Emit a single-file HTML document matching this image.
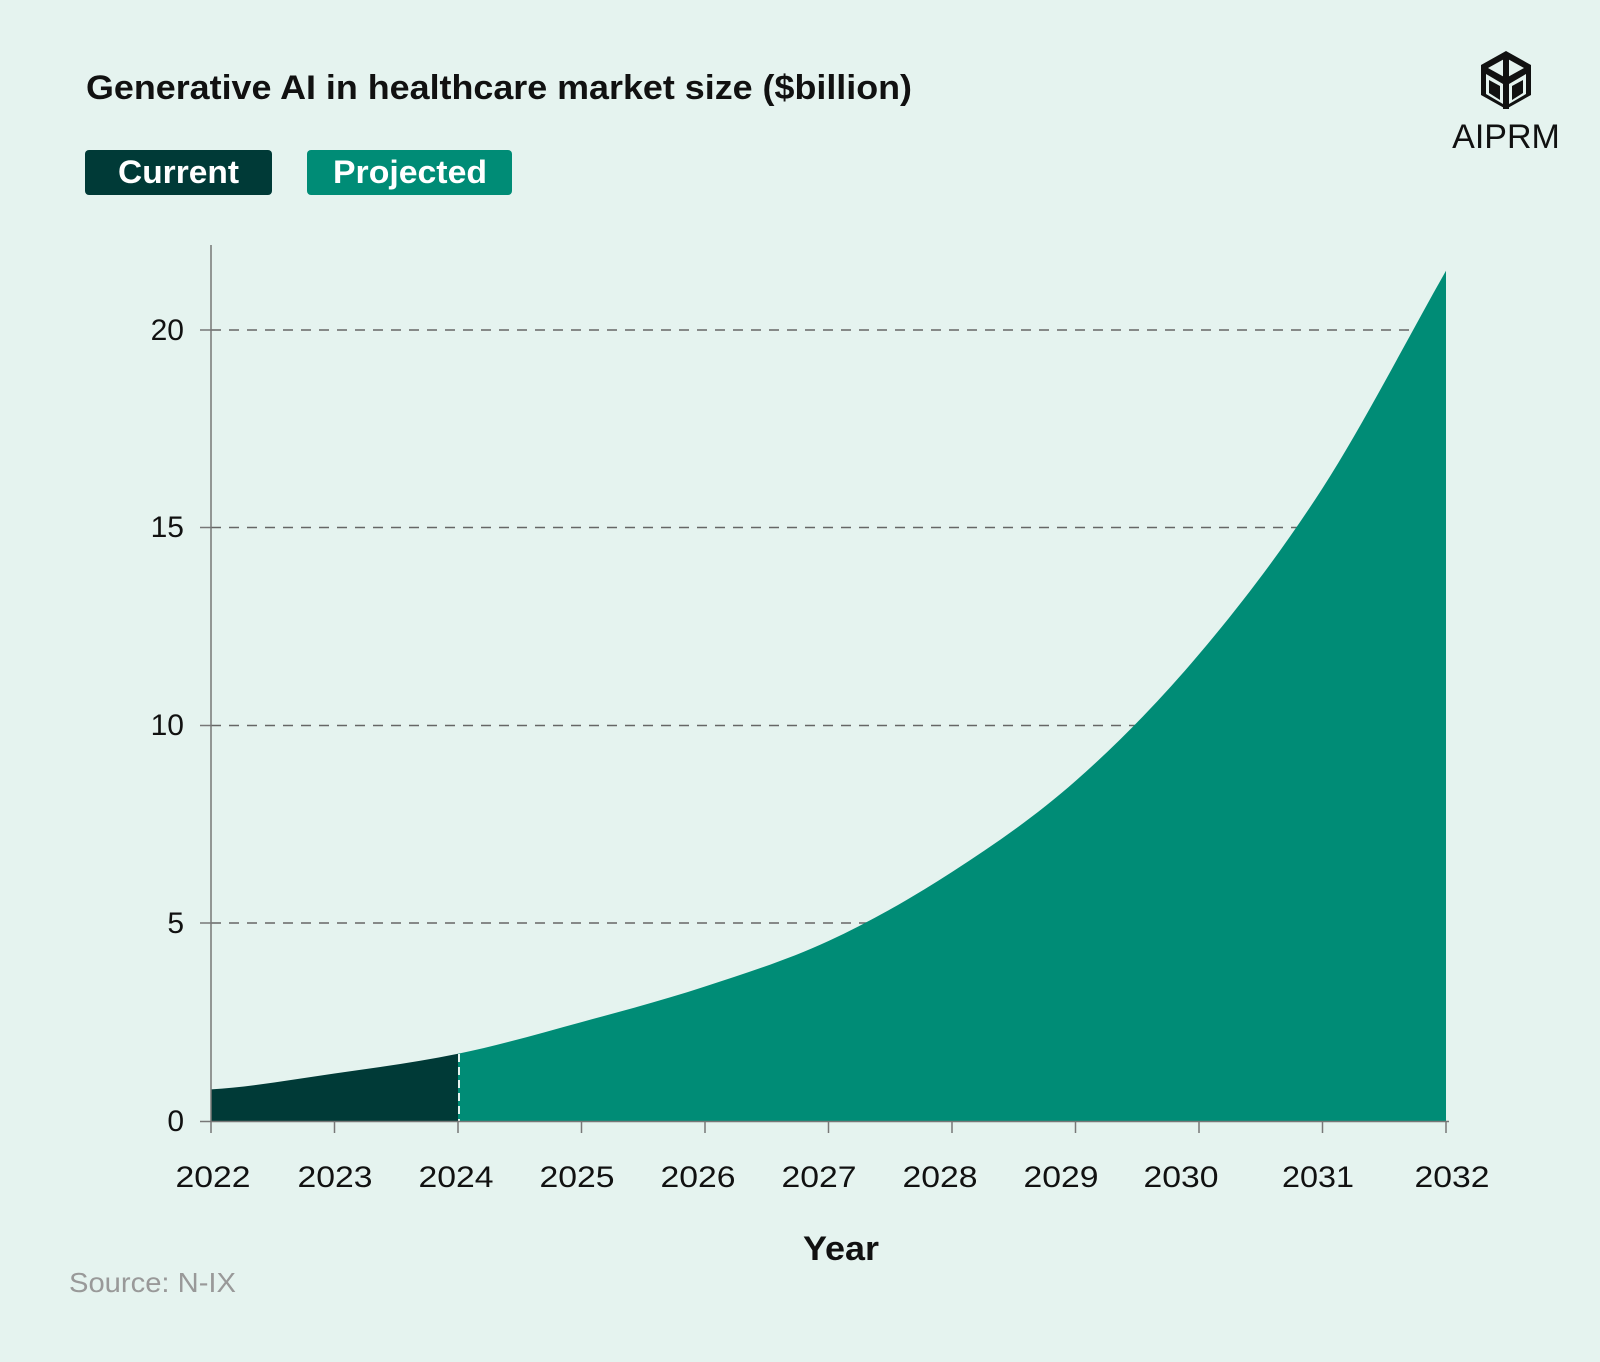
<!DOCTYPE html>
<html><head><meta charset="utf-8"><style>
html,body{margin:0;padding:0;background:#e5f3ef;}
svg{display:block;font-family:"Liberation Sans",Arial,sans-serif;}
</style></head><body>
<svg width="1600" height="1362" viewBox="0 0 1600 1362" xmlns="http://www.w3.org/2000/svg">
<rect width="1600" height="1362" fill="#e5f3ef"/>
<text x="86" y="99" font-size="34" font-weight="bold" fill="#111" textLength="826" lengthAdjust="spacingAndGlyphs">Generative AI in healthcare market size ($billion)</text>
<rect x="85" y="150" width="187" height="45" rx="4" fill="#003a37"/>
<text x="118" y="183" font-size="32" font-weight="bold" fill="#fff" textLength="121" lengthAdjust="spacingAndGlyphs">Current</text>
<rect x="307" y="150" width="205" height="45" rx="4" fill="#008c76"/>
<text x="333" y="183" font-size="32" font-weight="bold" fill="#fff" textLength="154" lengthAdjust="spacingAndGlyphs">Projected</text>
<!-- logo -->
<g fill="#111">
<polygon points="1506,51 1531,65 1531,95 1506,109 1481,95 1481,65" fill="#111"/>
<polygon points="1506,58 1524,68 1506,78 1488,68" fill="#e5f3ef"/>
<rect x="1503" y="55" width="6" height="54" fill="#111"/>
<polygon points="1486,74 1503,84 1503,104 1486,94" fill="#e5f3ef"/>
<polygon points="1526,74 1509,84 1509,104 1526,94" fill="#e5f3ef"/>
<polygon points="1489,80 1500,86 1500,100 1489,93" fill="#111"/>
<polygon points="1523,80 1512,86 1512,100 1523,93" fill="#111"/>
</g>
<text x="1506" y="148" font-size="34" fill="#111" text-anchor="middle">AIPRM</text>
<!-- grid -->
<g stroke="#666" stroke-width="1.5" stroke-dasharray="10,8">
<line x1="211" y1="330" x2="1449" y2="330"/>
<line x1="211" y1="527.5" x2="1449" y2="527.5"/>
<line x1="211" y1="725.5" x2="1449" y2="725.5"/>
<line x1="211" y1="923" x2="1449" y2="923"/>
</g>
<!-- area -->
<path d="M211,1121 L211,1089.4 C252.2,1086.75 293.3,1079.43 334.5,1073.5 C375.7,1067.57 416.8,1062.37 458,1053.8 L458,1121 Z" fill="#003a37"/>
<path d="M458,1121 L458,1053.8 C499.2,1045.23 540.3,1033.32 581.5,1022.1 C622.7,1010.88 663.8,1000.02 705,986.5 C746.2,972.98 787.3,960.08 828.5,941 C869.7,921.92 910.8,898.67 952,872 C993.2,845.33 1034.3,817.28 1075.5,781 C1116.7,744.72 1157.8,703.1 1199,654.3 C1240.2,605.5 1281.3,552.13 1322.5,488.2 C1363.7,424.27 1404.8,343.2 1446,270.7 L1446,1121 Z" fill="#008c76"/>
<line x1="459" y1="1054" x2="459" y2="1121" stroke="#e5f3ef" stroke-width="2" stroke-dasharray="8,5"/>
<!-- axes -->
<line x1="211" y1="245" x2="211" y2="1121" stroke="#777" stroke-width="1.5"/>
<line x1="200" y1="1121.5" x2="1449" y2="1121.5" stroke="#777" stroke-width="1.5"/>
<g stroke="#777" stroke-width="1.5">
<line x1="200" y1="330" x2="211" y2="330"/><line x1="200" y1="527.5" x2="211" y2="527.5"/><line x1="200" y1="725.5" x2="211" y2="725.5"/><line x1="200" y1="923" x2="211" y2="923"/>
<line x1="211" y1="1121" x2="211" y2="1133"/><line x1="334.5" y1="1121" x2="334.5" y2="1133"/><line x1="458" y1="1121" x2="458" y2="1133"/><line x1="581.5" y1="1121" x2="581.5" y2="1133"/><line x1="705" y1="1121" x2="705" y2="1133"/><line x1="828.5" y1="1121" x2="828.5" y2="1133"/><line x1="952" y1="1121" x2="952" y2="1133"/><line x1="1075.5" y1="1121" x2="1075.5" y2="1133"/><line x1="1199" y1="1121" x2="1199" y2="1133"/><line x1="1322.5" y1="1121" x2="1322.5" y2="1133"/><line x1="1446" y1="1121" x2="1446" y2="1133"/>
</g>
<g font-size="30" fill="#111" text-anchor="end">
<text x="184" y="340">20</text><text x="184" y="537">15</text><text x="184" y="735">10</text><text x="184" y="933">5</text><text x="184" y="1131">0</text>
</g>
<g font-size="30" fill="#111" text-anchor="middle">
<text x="213" y="1187" textLength="75" lengthAdjust="spacingAndGlyphs">2022</text><text x="335" y="1187" textLength="75" lengthAdjust="spacingAndGlyphs">2023</text><text x="456" y="1187" textLength="75" lengthAdjust="spacingAndGlyphs">2024</text><text x="577" y="1187" textLength="75" lengthAdjust="spacingAndGlyphs">2025</text><text x="698" y="1187" textLength="75" lengthAdjust="spacingAndGlyphs">2026</text><text x="819" y="1187" textLength="75" lengthAdjust="spacingAndGlyphs">2027</text><text x="940" y="1187" textLength="75" lengthAdjust="spacingAndGlyphs">2028</text><text x="1061" y="1187" textLength="75" lengthAdjust="spacingAndGlyphs">2029</text><text x="1181" y="1187" textLength="75" lengthAdjust="spacingAndGlyphs">2030</text><text x="1318" y="1187" textLength="72" lengthAdjust="spacingAndGlyphs">2031</text><text x="1452" y="1187" textLength="75" lengthAdjust="spacingAndGlyphs">2032</text>
</g>
<text x="803" y="1260" font-size="34" font-weight="bold" fill="#111" textLength="76" lengthAdjust="spacingAndGlyphs">Year</text>
<text x="69" y="1292" font-size="28" fill="#999" textLength="167" lengthAdjust="spacingAndGlyphs">Source: N-IX</text>
</svg>
</body></html>
